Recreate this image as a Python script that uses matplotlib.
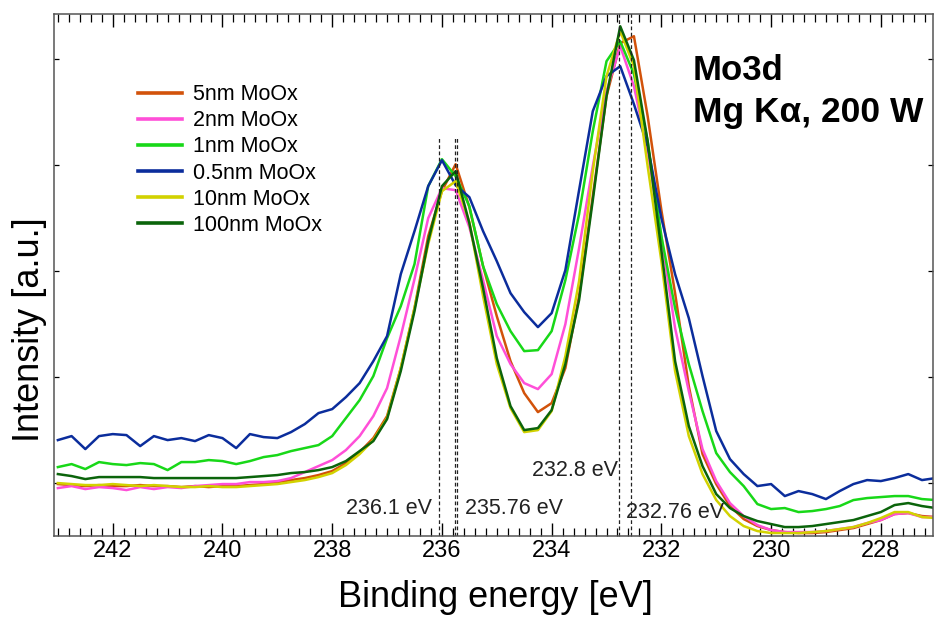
import numpy as np
import matplotlib.pyplot as plt
from matplotlib.ticker import MultipleLocator, NullFormatter

plt.rcParams['font.family'] = ['Liberation Sans', 'DejaVu Sans']

# binding energy grid (eV), 0.25 eV steps
energy = np.round(np.arange(243.0, 226.9, -0.25), 2)

# intensities (a.u.)
moox_5nm = [52, 51, 50, 51, 50, 50, 51, 50, 50, 49, 50, 49, 50, 50, 51, 52, 54, 56, 58, 61,
            65, 73, 84, 98, 120, 168, 228, 300, 345, 372, 329, 270, 220, 175, 143, 124, 133, 168, 240, 340,
            440, 493, 500, 420, 326, 243, 150, 82, 52, 30, 17, 10, 6, 4, 3, 3, 4, 6, 8, 12,
            16, 22, 23, 20, 19]
moox_2nm = [48, 50, 47, 49, 48, 46, 49, 47, 49, 48, 50, 51, 52, 52, 54, 54, 55, 58, 64, 70,
            76, 86, 100, 120, 148, 200, 257, 318, 348, 346, 309, 256, 200, 172, 153, 147, 162, 212, 288, 370,
            445, 490, 450, 385, 300, 208, 145, 87, 55, 33, 20, 11, 6, 4, 4, 4, 5, 7, 9, 13,
            16, 22, 23, 19, 19]
moox_1nm = [69, 72, 67, 74, 72, 71, 73, 72, 66, 74, 74, 76, 75, 72, 75, 79, 81, 85, 88, 91,
            100, 118, 136, 160, 198, 230, 272, 350, 377, 360, 330, 270, 232, 205, 185, 186, 205, 256, 322, 405,
            475, 495, 462, 395, 300, 228, 172, 125, 83, 64, 50, 32, 27, 28, 24, 25, 27, 30, 36, 38,
            39, 40, 40, 37, 36]
moox_05nm = [96, 100, 87, 100, 102, 101, 90, 100, 96, 98, 95, 101, 98, 88, 102, 99, 98, 104, 112, 123,
             127, 139, 153, 175, 200, 262, 305, 350, 376, 351, 339, 305, 275, 243, 224, 209, 223, 266, 346, 425,
             460, 470, 432, 390, 318, 262, 218, 160, 105, 77, 62, 50, 52, 40, 45, 42, 37, 45, 52, 56,
             55, 58, 62, 56, 58]
moox_10nm = [53, 52, 51, 51, 52, 51, 50, 51, 50, 49, 49, 50, 49, 49, 50, 51, 52, 54, 56, 59,
             63, 71, 82, 96, 118, 168, 228, 292, 345, 355, 314, 240, 172, 128, 104, 106, 125, 180, 255, 365,
             460, 505, 470, 370, 275, 165, 100, 62, 36, 20, 10, 5, 3, 3, 3, 4, 5, 7, 9, 13,
             18, 24, 24, 19, 18]
moox_100nm = [62, 60, 57, 59, 59, 59, 59, 58, 58, 58, 58, 58, 58, 58, 59, 60, 61, 63, 64, 66,
              69, 75, 85, 95, 117, 165, 225, 295, 350, 365, 313, 248, 178, 130, 106, 108, 126, 172, 236, 336,
              440, 510, 476, 395, 286, 175, 110, 70, 42, 28, 20, 15, 12, 9, 9, 10, 12, 14, 16, 20,
              24, 31, 33, 30, 28]

series = [("5nm MoOx", moox_5nm, "#D2520A"),
          ("2nm MoOx", moox_2nm, "#FF4FD8"),
          ("1nm MoOx", moox_1nm, "#18D818"),
          ("0.5nm MoOx", moox_05nm, "#0B2D9C"),
          ("10nm MoOx", moox_10nm, "#D2D200"),
          ("100nm MoOx", moox_100nm, "#0B640B")]

# peak markers (eV) and their labels
peak_lines = [236.05, 235.76, 235.73, 232.78, 232.56]
peak_labels = ["236.1 eV", "235.76 eV", "232.8 eV", "232.76 eV"]

fig = plt.figure(figsize=(9.35, 6.19), dpi=100)
ax = fig.add_axes([0.0578, 0.134, 0.940, 0.843])

for name, vals, col in series:
    ax.plot(energy, vals, color=col, lw=1.8, label=name)

for e in peak_lines[:3]:
    ax.plot([e, e], [0, 398], ls=(0, (3, 2)), color='#222222', lw=0.9)
for e in peak_lines[3:]:
    ax.plot([e, e], [0, 524], ls=(0, (3, 2)), color='#222222', lw=0.9, clip_on=False)

ax.text(237.74, 28, peak_labels[0], fontsize=15.5, color='#222222', va='center')
ax.text(235.58, 28, peak_labels[1], fontsize=15.5, color='#222222', va='center')
ax.text(234.36, 66, peak_labels[2], fontsize=15.5, color='#222222', va='center')
ax.text(232.64, 24, peak_labels[3], fontsize=15.5, color='#222222', va='center')

ax.text(0.727, 0.893, "Mo3d", transform=ax.transAxes, fontsize=25,
        fontweight='bold', va='center')
ax.text(0.727, 0.812, "Mg K\u03b1, 200 W", transform=ax.transAxes, fontsize=25.5,
        fontweight='bold', va='center')

ax.set_xlim(243.07, 227.05)
ax.set_ylim(0, 522)

ax.xaxis.set_major_locator(MultipleLocator(2))
ax.xaxis.set_minor_locator(MultipleLocator(0.2))
ax.set_yticks([53, 159, 265, 371, 477])
ax.yaxis.set_major_formatter(NullFormatter())
ax.tick_params(axis='x', which='major', direction='in', length=9.5, width=1.0,
               top=True, labelsize=17, pad=3)
ax.tick_params(axis='x', which='minor', direction='in', length=5.5, width=0.9, top=True)
ax.tick_params(axis='y', which='major', direction='in', length=3.5, width=0.9, right=True)
for sp in ax.spines.values():
    sp.set_color('#555555')
    sp.set_linewidth(1.1)

ax.set_xlabel("Binding energy [eV]", fontsize=26)
ax.xaxis.set_label_coords(0.502, -0.084)
ax.set_ylabel("Intensity [a.u.]", fontsize=26)
ax.yaxis.set_label_coords(-0.008, 0.395)

leg = ax.legend(loc='upper left', bbox_to_anchor=(0.0956, 0.866), frameon=False,
                fontsize=15.5, handlelength=2.05, handletextpad=0.5, labelspacing=0.24,
                borderpad=0, borderaxespad=0)
for ln in leg.get_lines():
    ln.set_linewidth(2.6)

fig.savefig("out.png", dpi=100)
